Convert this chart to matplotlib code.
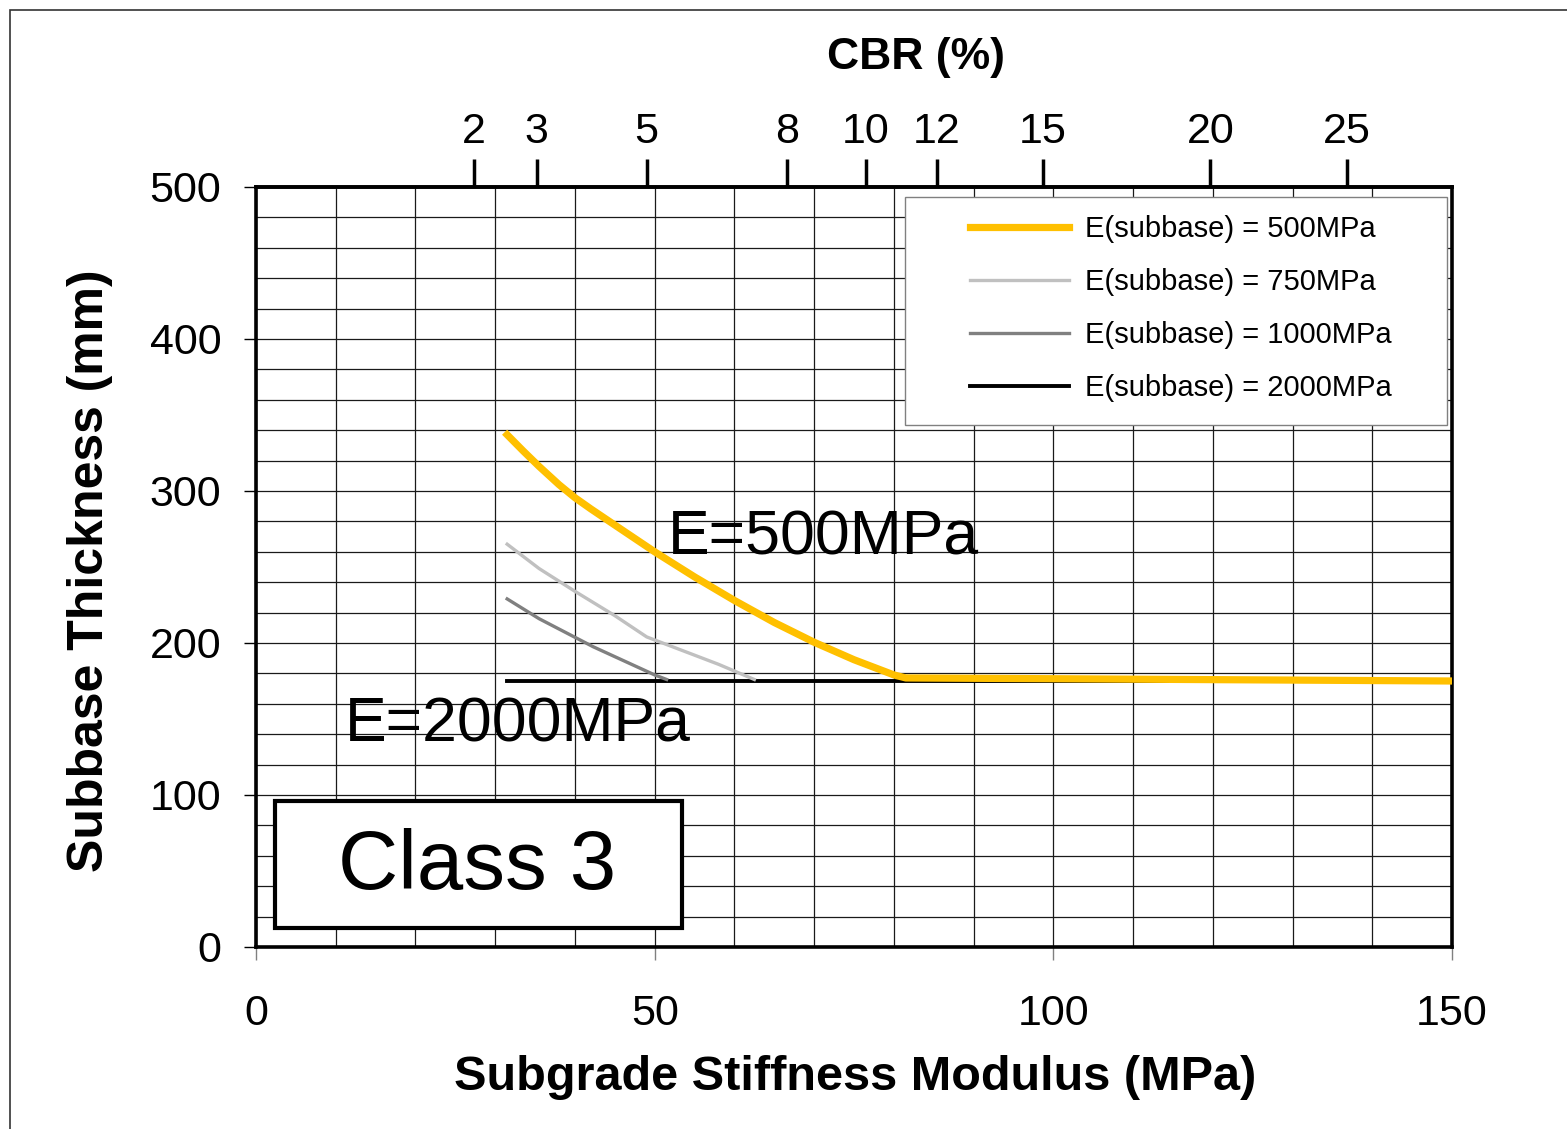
import numpy as np
import matplotlib
matplotlib.use("Agg")
import matplotlib.pyplot as plt
from matplotlib.patches import Rectangle

plt.rcParams['font.family'] = ['Liberation Sans', 'DejaVu Sans']

# curves: subgrade modulus (MPa) -> subbase thickness (mm)
e500_x = [31.5, 33.5, 35.5, 38.0, 40.0, 42.0, 45.0, 50.0, 55.0, 60.0, 65.0,
          70.0, 75.0, 80.0, 81.5, 100.0, 150.0]
e500_y = [337, 326.4, 316.2, 304.2, 295.6, 288.2, 277.6, 260, 243.5, 228, 213.5,
          200.5, 189, 179, 177, 176.5, 175]
e750_x = [31.5, 35.5, 40.0, 45.0, 49.0, 53.0, 58.0, 62.5]
e750_y = [265, 249, 234, 218, 204, 196, 186, 176]
e1000_x = [31.5, 35.5, 42.3, 50.0, 51.5]
e1000_y = [229, 216, 197.5, 179, 176]
e2000_x = [31.5, 150.0]
e2000_y = [175, 175]

series_labels = ['E(subbase) = 500MPa', 'E(subbase) = 750MPa',
                 'E(subbase) = 1000MPa', 'E(subbase) = 2000MPa']

# CBR scale on top (positions in MPa)
cbr_pos = [27.3, 35.2, 49.0, 66.6, 76.5, 85.4, 98.7, 119.7, 136.8]
cbr_labels = ['2', '3', '5', '8', '10', '12', '15', '20', '25']

fig = plt.figure(figsize=(15.67, 11.29), dpi=100)
ax = fig.add_axes([256/1567, 1-947/1129, 1196/1567, 760/1129])

ax.set_xlim(0, 150)
ax.set_ylim(0, 500)
ax.set_xticks([0, 50, 100, 150])
ax.set_yticks([0, 100, 200, 300, 400, 500])
ax.set_xticks(np.arange(0, 151, 10), minor=True)
ax.set_yticks(np.arange(0, 501, 20), minor=True)
ax.grid(which='both', color='#1a1a1a', lw=0.9)
ax.tick_params(which='minor', length=0)
ax.tick_params(axis='x', which='major', length=9, width=1, color='#808080', pad=25, labelsize=31)
ax.tick_params(axis='y', which='major', length=9, width=1, color='black', pad=16, labelsize=31)
for sp in ax.spines.values():
    sp.set_linewidth(2.6)

l2000, = ax.plot(e2000_x, e2000_y, color='black', lw=2.8, zorder=4)
l1000, = ax.plot(e1000_x, e1000_y, color='#808080', lw=2.4, zorder=4)
l750, = ax.plot(e750_x, e750_y, color='#c0c0c0', lw=2.4, zorder=4)
l500, = ax.plot(e500_x, e500_y, color='#ffc000', lw=5.2, zorder=5,
                solid_joinstyle='round')

# legend frame
ax.add_patch(Rectangle((0.5426, 0.6868), 0.4532, 0.30, transform=ax.transAxes,
                       facecolor='white', edgecolor='#808080', lw=1, zorder=6))
leg = ax.legend([l500, l750, l1000, l2000], series_labels, loc='upper left',
                bbox_to_anchor=(0.597, 0.963), frameon=False, fontsize=21,
                handlelength=3.4, handletextpad=0.55, labelspacing=0.86,
                borderpad=0, borderaxespad=0)
leg.set_zorder(7)

ax.text(51.7, 258, 'E=500MPa', fontsize=45, ha='left', va='baseline', zorder=6)
ax.text(11.2, 135, 'E=2000MPa', fontsize=45, ha='left', va='baseline', zorder=6)

ax.add_patch(Rectangle((2.4, 12.5), 51.0, 83.5, facecolor='white',
                       edgecolor='black', lw=3, zorder=6))
ax.text(27.7, 38.2, 'Class 3', fontsize=60, ha='center', va='baseline', zorder=7)

secax = ax.secondary_xaxis('top')
secax.set_xticks(cbr_pos, labels=cbr_labels)
secax.tick_params(length=20, width=2.5, labelsize=31, pad=5)
secax.spines['top'].set_linewidth(2.6)

fig.text(916/1567, 1-58/1129, 'CBR (%)', fontsize=32, fontweight='bold',
         ha='center', va='center')
fig.text(855/1567, 1-1078/1129, 'Subgrade Stiffness Modulus (MPa)', fontsize=35,
         fontweight='bold', ha='center', va='center')
fig.text(90/1567, 1-571/1129, 'Subbase Thickness (mm)', fontsize=36,
         fontweight='bold', ha='center', va='center', rotation=90)

fig.add_artist(Rectangle((10/1567, -0.1), 1.2, 1.1-10/1129, transform=fig.transFigure,
                         fill=False, edgecolor='#333333', lw=1.2))

fig.savefig('out.png', dpi=100)
